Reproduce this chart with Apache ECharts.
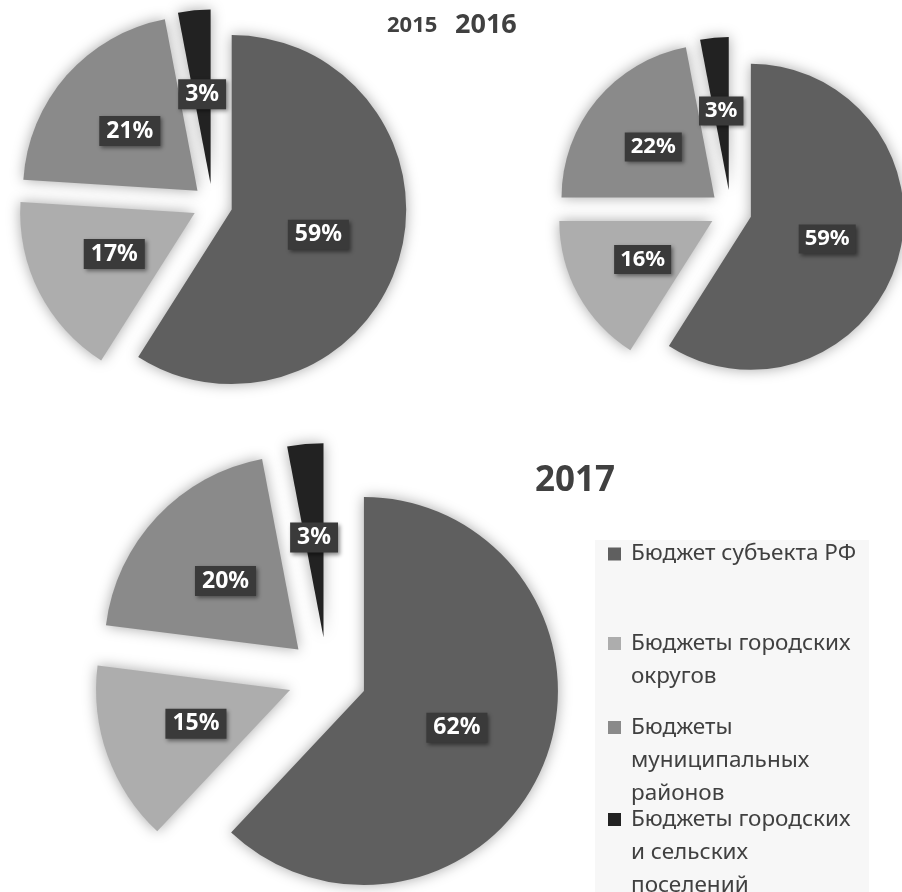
<!DOCTYPE html>
<html><head><meta charset="utf-8">
<script src="https://cdn.jsdelivr.net/npm/echarts@6/dist/echarts.min.js"></script>
<style>html,body{margin:0;padding:0;background:#fff}#c{width:902px;height:892px}</style>
</head><body><div id="c"></div>
<script>
const categories = ['Бюджет субъекта РФ', 'Бюджеты городских округов', 'Бюджеты муниципальных районов', 'Бюджеты городских и сельских поселений'];
const legendLines = [['Бюджет субъекта РФ'], ['Бюджеты городских', 'округов'], ['Бюджеты', 'муниципальных', 'районов'], ['Бюджеты городских', 'и сельских', 'поселений']];
const years = ['2015', '2016', '2017'];
const values2015 = [59, 17, 21, 3];
const values2016 = [59, 16, 22, 3];
const values2017 = [62, 15, 20, 3];
const sliceColors = ['#5f5f5f', '#adadad', '#8a8a8a', '#222222'];

const FONT = 'Noto Sans';
const LH = 33;

function pieSeries(name, values, center, radius, offset, fs, padX) {
  return {
    type: 'pie', name: name, center: center, radius: [0, radius],
    startAngle: 90, clockwise: true,
    selectedMode: 'multiple', selectedOffset: offset,
    animation: false,
    emphasis: { disabled: true },
    itemStyle: { shadowBlur: 14, shadowColor: 'rgba(0,0,0,0.35)', borderWidth: 0 },
    select: { itemStyle: { borderWidth: 0, borderColor: 'transparent' } },
    label: {
      show: true, position: 'inside', formatter: '{c}%',
      color: '#ffffff', fontWeight: 'bold', fontSize: fs, fontFamily: FONT, lineHeight: fs,
      backgroundColor: '#3a3a3a', padding: [4, padX, 3, padX],
      shadowBlur: 4, shadowOffsetX: 2, shadowOffsetY: 2, shadowColor: 'rgba(0,0,0,0.45)'
    },
    labelLine: { show: false },
    data: values.map(function (v, i) {
      return { name: categories[i], value: v, selected: true, itemStyle: { color: sliceColors[i] } };
    })
  };
}

const legendTops = [540, 594, 645, 737];
const legends = categories.map(function (name, i) {
  const n = legendLines[i].length;
  const blanks = [];
  for (let k = 1; k < n; k++) blanks.push(' ');
  const base = {
    data: [name], orient: 'vertical', icon: 'rect', itemWidth: 13, itemHeight: 13, itemGap: 0,
    selectedMode: false,
    formatter: function () { return blanks.concat(legendLines[i]).join('\n'); },
    textStyle: { fontSize: 22.5, color: '#404040', fontFamily: FONT, lineHeight: i === 0 ? 26 : LH, padding: [0, 0, 0, 5] },
    top: legendTops[i]
  };
  if (i === 0) {
    base.left = 595;
    base.padding = [1, 13, 325, 13];
    base.backgroundColor = '#f7f7f7';
  } else {
    base.left = 608;
    base.padding = 0;
  }
  return base;
});

const chart = echarts.init(document.getElementById('c'), null, { renderer: 'canvas' });
chart.setOption({
  backgroundColor: '#ffffff',
  animation: false,
  title: [
    { text: years[0], left: 387, top: 15, padding: 0, textStyle: { fontSize: 22, fontWeight: 'bold', color: '#404040', fontFamily: FONT } },
    { text: years[1], left: 455, top: 12, padding: 0, textStyle: { fontSize: 27, fontWeight: 'bold', color: '#404040', fontFamily: FONT } },
    { text: years[2], left: 535, top: 464, padding: 0, textStyle: { fontSize: 35, fontWeight: 'bold', color: '#404040', fontFamily: FONT } }
  ],
  legend: legends,
  series: [
    pieSeries(years[0], values2015, [212.5, 204], 174.5, 20, 23, 7),
    pieSeries(years[1], values2016, [730.7, 211], 153, 21, 22, 6),
    pieSeries(years[2], values2017, [327.2, 676.5], 194, 39.5, 23, 7)
  ]
});
</script>
</body></html>
